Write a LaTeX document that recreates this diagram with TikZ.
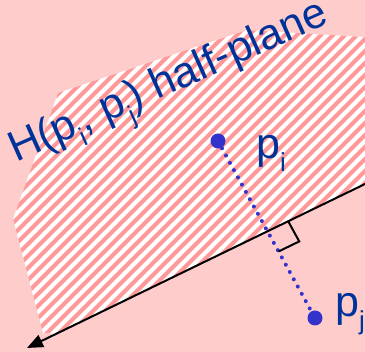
\documentclass[tikz,border=0pt]{standalone}
\usepackage{fontspec}
\setmainfont{Liberation Sans}
\usetikzlibrary{arrows.meta,calc}
\definecolor{bgpink}{HTML}{FFCCCC}
\definecolor{stripe}{HTML}{FF9999}
\definecolor{dotblue}{HTML}{3333CC}
\definecolor{txtblue}{HTML}{003399}
\newcommand\subtxt[1]{\raisebox{-0.3em}{\fontsize{26}{26}\selectfont #1}}
\tikzset{
  lbl/.style={anchor=base west, inner sep=0pt, text=txtblue, font=\fontsize{43}{50}\selectfont},
  ptdot/.style={circle, fill=dotblue, inner sep=0pt, minimum size=15pt},
  bisector/.style={line width=2pt, black, -{Triangle[length=16pt,width=13pt]}},
  dotline/.style={dotblue, line width=4pt, line cap=round, dash pattern=on 0pt off 8.3pt},
  rightmark/.style={line width=2pt, black}
}
\begin{document}
\begin{tikzpicture}[x=1pt,y=-1pt]
\fill[bgpink] (0,0) rectangle (365,352);
\useasboundingbox (0,0) rectangle (365,352);
% hatched half-plane
\begin{scope}
\clip (58,93) -- (247,30) -- (365,37) -- (365,184) -- (56,334) -- (43,333) -- (13,219) -- cycle;
\fill[white] (0,0) rectangle (365,352);
\foreach \c in {-400,-388,...,800} {
  \draw[stripe, line width=4pt] (\c,0) -- (\c-400,400);
}
\end{scope}
% bisector line
\coordinate (lr) at (365,184);
\coordinate (ll) at (27,348);
\draw[bisector] (lr) -- (ll);
% points
\node[ptdot] (pi) at (218,141) {};
\node[ptdot] (pj) at (315,318) {};
\draw[dotline] (pi.center) -- (pj.center);
% right angle marker
\coordinate (x) at (267.5,231.3);
\coordinate (ma) at ($(x)!23pt!(lr)$);
\coordinate (mc) at ($(x)!23pt!(pj)$);
\coordinate (mb) at ($(ma)+(mc)-(x)$);
\draw[rightmark] (ma) -- (mb) -- (mc);
% labels
\node[lbl] (lpi) at (256,159) {p\subtxt{i}};
\node[lbl] (lpj) at (335,317) {p\subtxt{j}};
\node[lbl, rotate=24] (title) at (16,163) {H(p\subtxt{i}, p\subtxt{j}) half-plane};
\end{tikzpicture}
\end{document}
